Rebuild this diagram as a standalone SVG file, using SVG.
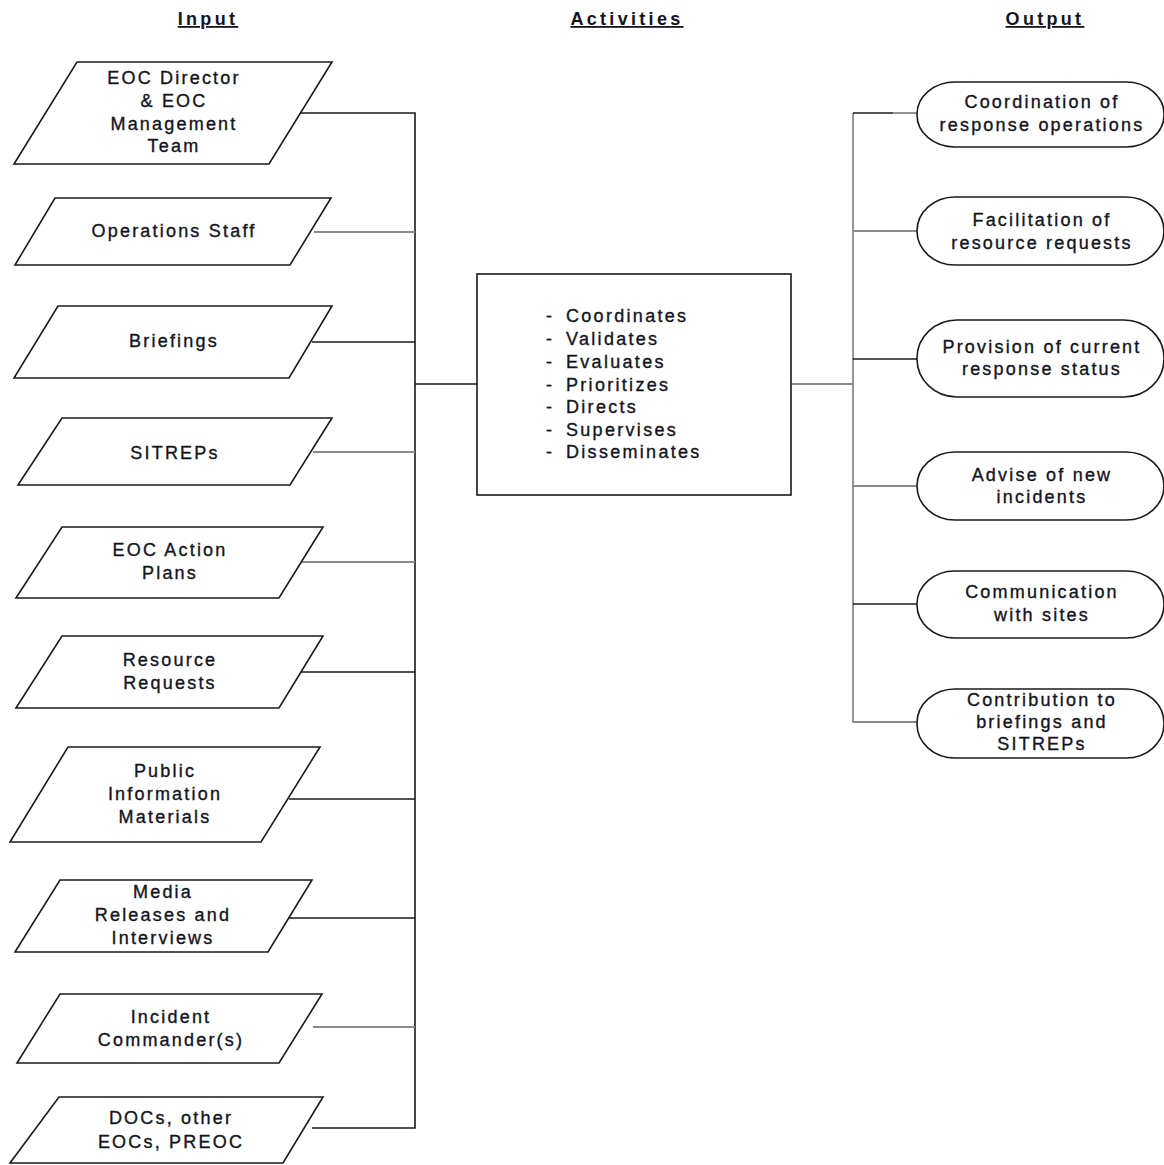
<svg xmlns="http://www.w3.org/2000/svg" width="1164" height="1165" viewBox="0 0 1164 1165">
<style>
  .bg{fill:#fff}
  .shape{fill:#fff;stroke:#1a1a1a;stroke-width:1.6}
  .t{font-family:"Liberation Sans",Arial,sans-serif;font-size:18px;letter-spacing:2.2px;fill:#141420;stroke:#141420;stroke-width:0.35px;text-anchor:middle}
  .bt{font-family:"Liberation Sans",Arial,sans-serif;font-size:18px;letter-spacing:2.3px;fill:#141420;stroke:#141420;stroke-width:0.35px}
  .h{font-family:"Liberation Sans",Arial,sans-serif;font-size:18px;font-weight:bold;letter-spacing:3.3px;fill:#141420;text-anchor:middle;text-decoration:underline}
  .c{fill:none;stroke:#1a1a1a;stroke-width:1.6}
  .g{fill:none;stroke:#8a8a8a;stroke-width:1.8}
</style>
<rect class="bg" x="0" y="0" width="1164" height="1165"/>

<g id="headers">
  <text class="h" x="208" y="25">Input</text>
  <text class="h" x="627" y="25">Activities</text>
  <text class="h" x="1045" y="25">Output</text>
</g>

<g id="connectors">
  <path class="c" d="M300,113 H415 V1128 H312"/>
  <path class="g" d="M314,232 H415"/>
  <path class="c" d="M312,342 H415"/>
  <path class="g" d="M313,452 H415"/>
  <path class="g" d="M302,562 H415"/>
  <path class="c" d="M301,672 H415"/>
  <path class="c" d="M289,799 H415"/>
  <path class="c" d="M289,918 H415"/>
  <path class="g" d="M313,1027 H415"/>
  <path class="c" d="M415,384 H478"/>
  <path class="g" d="M791,384 H853"/>
  <path class="g" d="M853,113 V722 H917"/>
  <path class="c" d="M853,113 H893"/>
  <path class="g" d="M893,113 H917"/>
  <path class="g" d="M853,231 H917"/>
  <path class="c" d="M853,359 H917"/>
  <path class="g" d="M853,486 H917"/>
  <path class="c" d="M853,604 H917"/>
</g>

<g id="in1">
  <polygon class="shape" points="77,62 332,62 269,164 14,164"/>
  <text class="t" x="174" y="84">EOC Director</text>
  <text class="t" x="174" y="107">&amp; EOC</text>
  <text class="t" x="174" y="130">Management</text>
  <text class="t" x="174" y="152">Team</text>
</g>
<g id="in2">
  <polygon class="shape" points="55,198 331,198 290,265 15,265"/>
  <text class="t" x="174" y="237">Operations Staff</text>
</g>
<g id="in3">
  <polygon class="shape" points="58,306 332,306 289,378 14,378"/>
  <text class="t" x="174" y="347">Briefings</text>
</g>
<g id="in4">
  <polygon class="shape" points="62,418 332,418 290,485 18,485"/>
  <text class="t" x="175" y="459">SITREPs</text>
</g>
<g id="in5">
  <polygon class="shape" points="62,527 323,527 279,598 16,598"/>
  <text class="t" x="170" y="556">EOC Action</text>
  <text class="t" x="170" y="579">Plans</text>
</g>
<g id="in6">
  <polygon class="shape" points="62,636 323,636 279,708 16,708"/>
  <text class="t" x="170" y="666">Resource</text>
  <text class="t" x="170" y="689">Requests</text>
</g>
<g id="in7">
  <polygon class="shape" points="68,747 320,747 261,842 10,842"/>
  <text class="t" x="165" y="777">Public</text>
  <text class="t" x="165" y="800">Information</text>
  <text class="t" x="165" y="823">Materials</text>
</g>
<g id="in8">
  <polygon class="shape" points="60,880 312,880 268,952 15,952"/>
  <text class="t" x="163" y="898">Media</text>
  <text class="t" x="163" y="921">Releases and</text>
  <text class="t" x="163" y="944">Interviews</text>
</g>
<g id="in9">
  <polygon class="shape" points="60,994 322,994 279,1063 17,1063"/>
  <text class="t" x="171" y="1023">Incident</text>
  <text class="t" x="171" y="1046">Commander(s)</text>
</g>
<g id="in10">
  <polygon class="shape" points="59,1097 323,1097 283,1163 10,1163"/>
  <text class="t" x="171" y="1124">DOCs, other</text>
  <text class="t" x="171" y="1148">EOCs, PREOC</text>
</g>

<g id="activities">
  <rect class="shape" x="477" y="274" width="314" height="221"/>
  <text class="bt"><tspan x="546" y="322">-</tspan><tspan x="566" y="322">Coordinates</tspan></text>
  <text class="bt"><tspan x="546" y="345">-</tspan><tspan x="566" y="345">Validates</tspan></text>
  <text class="bt"><tspan x="546" y="368">-</tspan><tspan x="566" y="368">Evaluates</tspan></text>
  <text class="bt"><tspan x="546" y="391">-</tspan><tspan x="566" y="391">Prioritizes</tspan></text>
  <text class="bt"><tspan x="546" y="413">-</tspan><tspan x="566" y="413">Directs</tspan></text>
  <text class="bt"><tspan x="546" y="436">-</tspan><tspan x="566" y="436">Supervises</tspan></text>
  <text class="bt"><tspan x="546" y="458">-</tspan><tspan x="566" y="458">Disseminates</tspan></text>
</g>

<g id="out1">
  <rect class="shape" x="917" y="82" width="247" height="65" rx="38" ry="32"/>
  <text class="t" x="1042" y="108">Coordination of</text>
  <text class="t" x="1042" y="131">response operations</text>
</g>
<g id="out2">
  <rect class="shape" x="917" y="197" width="247" height="68" rx="38" ry="34"/>
  <text class="t" x="1042" y="226">Facilitation of</text>
  <text class="t" x="1042" y="249">resource requests</text>
</g>
<g id="out3">
  <rect class="shape" x="917" y="320" width="247" height="77" rx="40" ry="38"/>
  <text class="t" x="1042" y="353">Provision of current</text>
  <text class="t" x="1042" y="375">response status</text>
</g>
<g id="out4">
  <rect class="shape" x="917" y="452" width="247" height="68" rx="38" ry="34"/>
  <text class="t" x="1042" y="481">Advise of new</text>
  <text class="t" x="1042" y="503">incidents</text>
</g>
<g id="out5">
  <rect class="shape" x="917" y="571" width="247" height="67" rx="38" ry="33"/>
  <text class="t" x="1042" y="598">Communication</text>
  <text class="t" x="1042" y="621">with sites</text>
</g>
<g id="out6">
  <rect class="shape" x="917" y="689" width="247" height="69" rx="38" ry="34"/>
  <text class="t" x="1042" y="706">Contribution to</text>
  <text class="t" x="1042" y="728">briefings and</text>
  <text class="t" x="1042" y="750">SITREPs</text>
</g>
</svg>
